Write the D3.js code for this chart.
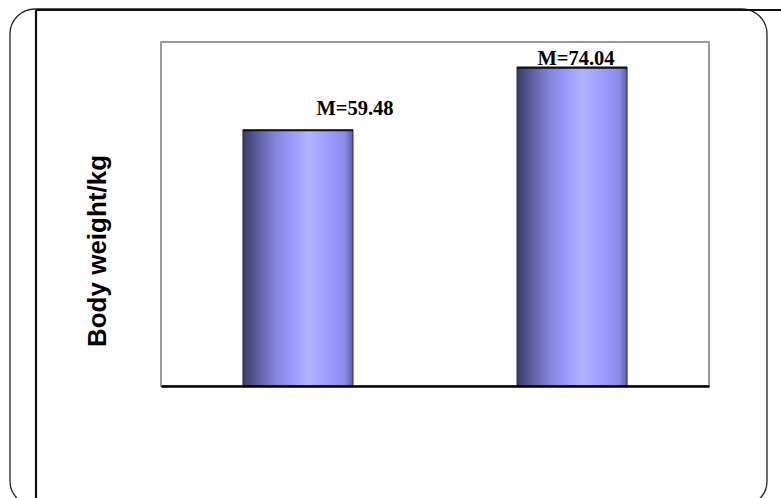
<!DOCTYPE html>
<html>
<head>
<meta charset="utf-8">
<script src="https://cdn.jsdelivr.net/npm/d3@7/dist/d3.min.js"></script>
<style>
  html, body { margin: 0; padding: 0; background: #fff; }
  svg { display: block; }
</style>
</head>
<body>
<svg id="chart" width="781" height="498"></svg>
<script>
// Data
const categories = ["Group A", "Group B"];
const meanWeights = [59.48, 74.04];
const valueLabels = ["M=59.48", "M=74.04"];
const yAxisTitle = "Body weight/kg";
const yDomain = [0, 80];

// Layout
const W = 781, H = 498;
const plot = { left: 161, right: 709, top: 42, bottom: 386 };
// per-label placement relative to bar centre / bar top
const labelDx = [57, 4];
const labelDy = [-15, -3];

const svg = d3.select("#chart");

// Outer rounded frame
svg.append("rect")
  .attr("x", 10).attr("y", 9)
  .attr("width", 757).attr("height", 497)
  .attr("rx", 25).attr("ry", 25)
  .attr("fill", "none")
  .attr("stroke", "#222")
  .attr("stroke-width", 1.3);

// Inner straight frame lines
svg.append("line")
  .attr("x1", 36).attr("y1", 10).attr("x2", W).attr("y2", 10)
  .attr("stroke", "#111").attr("stroke-width", 2.2);
svg.append("line")
  .attr("x1", 36).attr("y1", 10).attr("x2", 36).attr("y2", H)
  .attr("stroke", "#111").attr("stroke-width", 2.2);

// Scales
const x = d3.scaleBand()
  .domain(categories)
  .range([plot.left, plot.right])
  .paddingInner(0.5985)
  .paddingOuter(0.299);

const y = d3.scaleLinear()
  .domain(yDomain)
  .range([plot.bottom, plot.top]);

// Bar shading gradient
const defs = svg.append("defs");
const grad = defs.append("linearGradient")
  .attr("id", "barShade")
  .attr("x1", "0%").attr("x2", "100%").attr("y1", "0%").attr("y2", "0%");
[
  [0, "#3a3a66"],
  [0.12, "#5a5a9a"],
  [0.3, "#8585dc"],
  [0.45, "#9b9bff"],
  [0.6, "#b2b2ff"],
  [0.8, "#9a9aff"],
  [0.93, "#8a8ae8"],
  [1, "#5e5ea8"]
].forEach(([o, c]) => grad.append("stop").attr("offset", o).attr("stop-color", c));

// Plot area
svg.append("rect")
  .attr("x", plot.left).attr("y", plot.top)
  .attr("width", plot.right - plot.left)
  .attr("height", plot.bottom - plot.top)
  .attr("fill", "#fff")
  .attr("stroke", "#9a9a9a")
  .attr("stroke-width", 2);

// Bars
const bars = svg.append("g");
bars.selectAll("rect.bar")
  .data(meanWeights)
  .join("rect")
  .attr("class", "bar")
  .attr("x", (d, i) => x(categories[i]))
  .attr("y", d => y(d))
  .attr("width", x.bandwidth())
  .attr("height", d => y(0) - y(d))
  .attr("fill", "url(#barShade)")
  .attr("stroke", "#2a2a3a")
  .attr("stroke-width", 1);

// Dark top edge of each bar
bars.selectAll("line.cap")
  .data(meanWeights)
  .join("line")
  .attr("class", "cap")
  .attr("x1", (d, i) => x(categories[i]))
  .attr("x2", (d, i) => x(categories[i]) + x.bandwidth())
  .attr("y1", d => y(d))
  .attr("y2", d => y(d))
  .attr("stroke", "#111")
  .attr("stroke-width", 2.2);

// Baseline axis
const xAxis = d3.axisBottom(x).tickSize(0).tickFormat("");
const axisG = svg.append("g")
  .attr("transform", `translate(0,${y(0)})`)
  .call(xAxis);
axisG.select(".domain")
  .attr("stroke", "#000")
  .attr("stroke-width", 2.5);

// Value labels
svg.selectAll("text.value")
  .data(meanWeights)
  .join("text")
  .attr("class", "value")
  .attr("x", (d, i) => x(categories[i]) + x.bandwidth() / 2 + labelDx[i])
  .attr("y", (d, i) => y(d) + labelDy[i])
  .attr("text-anchor", "middle")
  .attr("font-family", "'Liberation Serif', 'Times New Roman', serif")
  .attr("font-weight", "bold")
  .attr("font-size", 20.5)
  .attr("fill", "#000")
  .text((d, i) => valueLabels[i]);

// Y axis title
svg.append("text")
  .attr("transform", "translate(106,251) rotate(-90)")
  .attr("text-anchor", "middle")
  .attr("font-family", "'Liberation Sans', Arial, sans-serif")
  .attr("font-weight", "bold")
  .attr("font-size", 26)
  .attr("fill", "#000")
  .text(yAxisTitle);
</script>
</body>
</html>
